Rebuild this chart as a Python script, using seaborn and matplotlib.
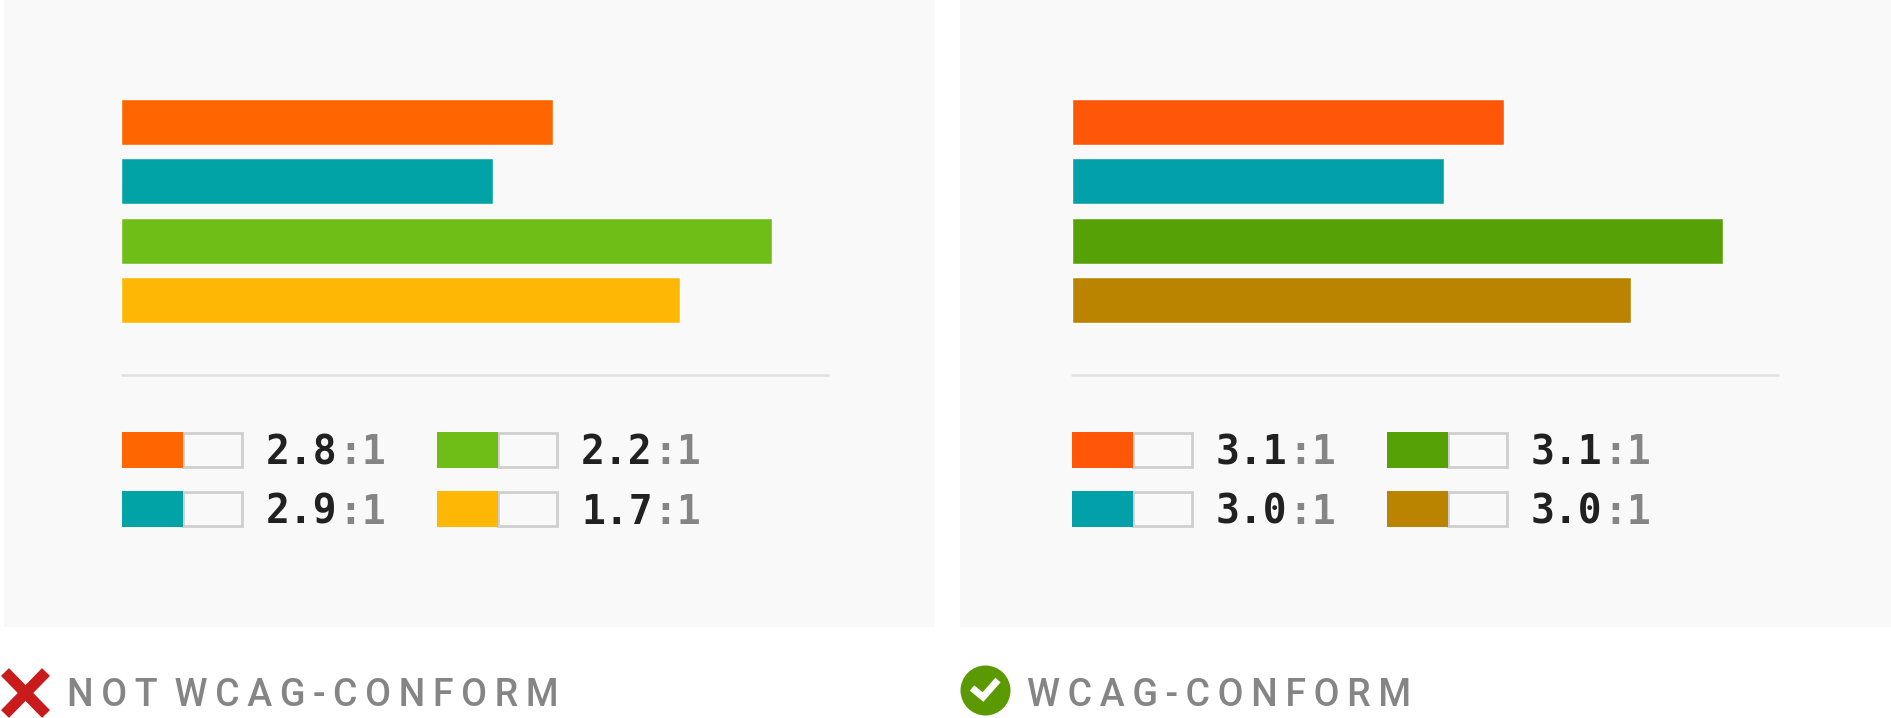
import matplotlib
matplotlib.use('Agg')
import matplotlib.pyplot as plt
from matplotlib.patches import Rectangle
import seaborn as sns

W, H = 1891, 718

categories = ['A', 'B', 'C', 'D']
bar_values = [432, 372, 651, 559]

colors_bad = ['#FF6600', '#02A3A6', '#6EBE17', '#FFB705']
colors_good = ['#FF5707', '#02A0A8', '#55A106', '#BA8400']

ratios_bad = ['2.8', '2.9', '2.2', '1.7']
ratios_good = ['3.1', '3.0', '3.1', '3.0']

label_bad = 'NOT WCAG-CONFORM'
label_good = 'WCAG-CONFORM'

sns.set_theme(style='white')
plt.rcParams['font.family'] = ['Roboto', 'DejaVu Sans']

fig = plt.figure(figsize=(W / 100, H / 100), dpi=100, facecolor='white')

# overlay in pixel coords for panels, legend and captions
bg = fig.add_axes([0, 0, 1, 1], zorder=0)
bg.set_xlim(0, W)
bg.set_ylim(H, 0)
bg.axis('off')


def spaced(s):
    # letter spacing with thin spaces, one extra thin space less at the word gap
    return '\u2009 '.join('\u2009'.join(w) for w in s.split(' '))


def draw_panel(x0, bar_x, rule_x, sw_x, colors, ratios):
    bg.add_patch(Rectangle((x0, 0), 931, 626.5, fc='#F9F9F9', ec='none'))
    bg.plot([rule_x, rule_x + 708], [374.5, 374.5], color='#E0E0E0', lw=1.8, solid_capstyle='butt')

    ax = fig.add_axes([bar_x / W, 1 - 330 / H, 800 / W, 238 / H], zorder=2)
    sns.barplot(x=bar_values, y=categories, hue=categories, palette=colors, width=0.77,
                saturation=1, legend=False, dodge=False, ax=ax)
    ax.set_xlim(0, 800)
    ax.set_ylim(3.5, -0.5)
    ax.axis('off')

    # contrast legend, two columns of two
    for i, (c, r) in enumerate(zip(colors, ratios)):
        sx = sw_x + (i // 2) * 315
        sy = 431.5 + (i % 2) * 59
        bg.add_patch(Rectangle((sx + 61, sy + 1), 59, 34, fc='none', ec='#CFCFCF', lw=2))
        bg.add_patch(Rectangle((sx, sy), 61, 36, fc=c, ec='none'))
        bg.text(sx + 144, sy + 33, r, family='DejaVu Sans Mono', fontweight='bold', fontsize=28.5,
                color='#212121', va='baseline', ha='left')
        bg.text(sx + 216, sy + 33, ':1', family='DejaVu Sans Mono', fontweight='bold', fontsize=28.5,
                color='#858585', va='baseline', ha='left')


draw_panel(4, 121, 121, 122, colors_bad, ratios_bad)
draw_panel(960, 1072, 1071, 1072, colors_good, ratios_good)

# cross icon
bg.plot([5, 46], [672, 714], color='#C91B1B', lw=8, solid_capstyle='butt')
bg.plot([46, 5], [672, 714], color='#C91B1B', lw=8, solid_capstyle='butt')
bg.text(67, 706, spaced(label_bad), fontsize=27, fontweight='medium', color='#858585', va='baseline')

# check icon
bg.scatter([985], [690], s=1296, color='#5A9A00', linewidths=0)
bg.plot([972, 983, 998], [688, 697, 680], color='white', lw=5, solid_joinstyle='miter', solid_capstyle='butt')
bg.text(1027, 706, spaced(label_good), fontsize=27, fontweight='medium', color='#858585', va='baseline')

fig.savefig('out.png', dpi=100, facecolor='white')
